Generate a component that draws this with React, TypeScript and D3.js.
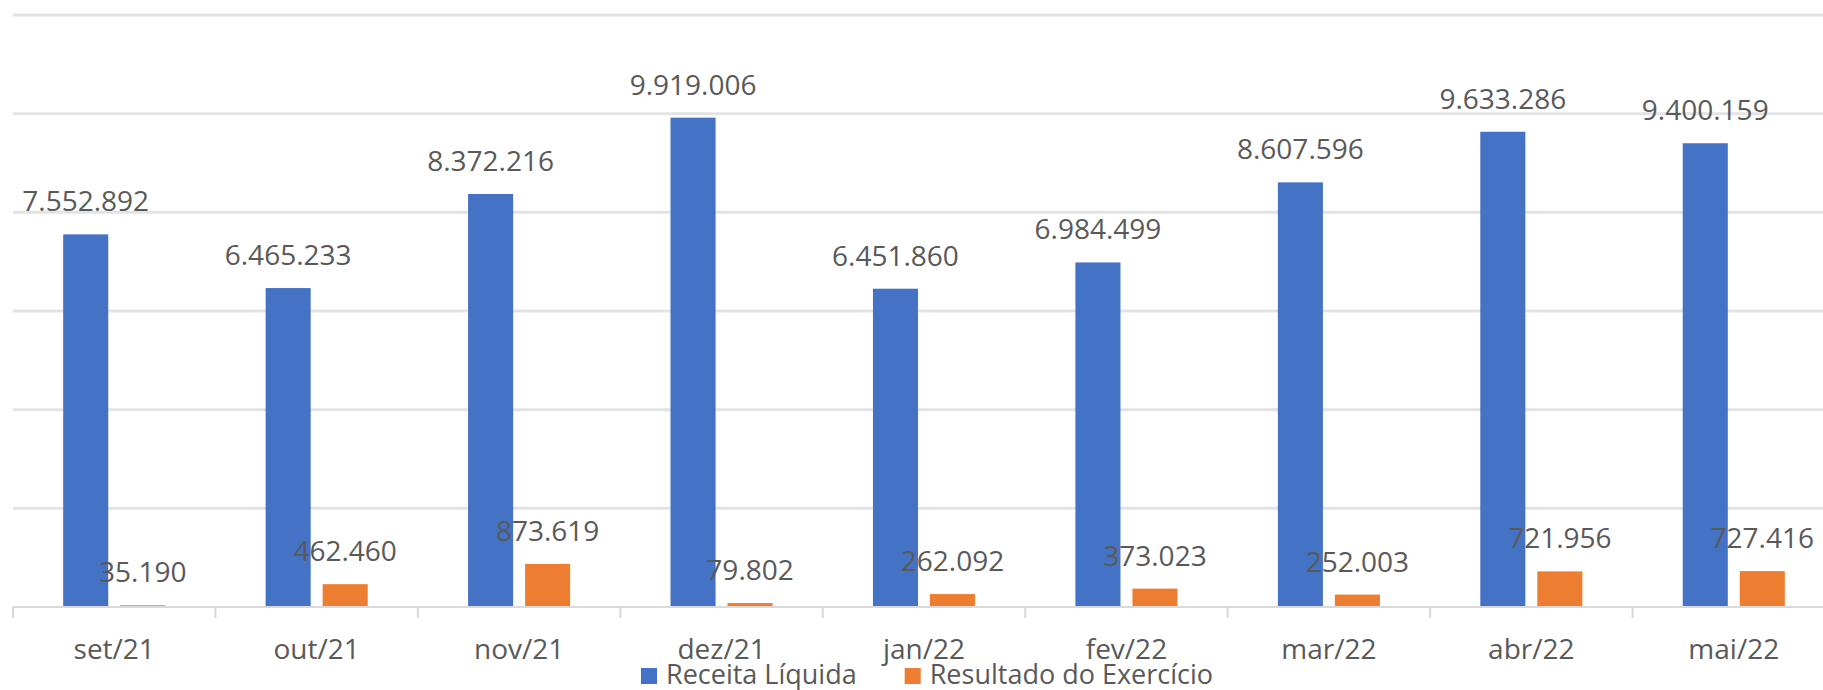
import { useEffect, useRef } from "react";
import * as d3 from "d3";

const categories = ["set/21", "out/21", "nov/21", "dez/21", "jan/22", "fev/22", "mar/22", "abr/22", "mai/22"];
const receitaLiquida = [7552892, 6465233, 8372216, 9919006, 6451860, 6984499, 8607596, 9633286, 9400159];
const resultadoExercicio = [35190, 462460, 873619, 79802, 262092, 373023, 252003, 721956, 727416];
const seriesNames = ["Receita Líquida", "Resultado do Exercício"];
const seriesColors = ["#4472C4", "#ED7D31"];
const yTicks = [0, 2000000, 4000000, 6000000, 8000000, 10000000, 12000000];

const W = 1823;
const H = 690;
const FONT = "'Open Sans', 'Liberation Sans', sans-serif";
const TEXT = "#595959";

const App = () => {
  const svgRef = useRef<SVGSVGElement | null>(null);

  useEffect(() => {
    if (!svgRef.current) return;
    const svg = d3.select(svgRef.current);
    svg.selectAll("*").remove();

    // plot area runs past the right edge (the original is cropped there)
    const left = 13;
    const right = 1835;
    const top = 15;
    const base = 607;

    const x = d3.scaleBand<string>().domain(categories).range([left, right]).padding(0);
    const xs = d3
      .scaleBand<number>()
      .domain([0, 1])
      .range([0, x.bandwidth()])
      .paddingInner(0.21)
      .paddingOuter(0.88);
    const y = d3.scaleLinear().domain([0, 12000000]).range([base, top]);

    const fmt = d3.formatLocale({ decimal: ",", thousands: ".", grouping: [3], currency: ["R$", ""] }).format(",d");

    // gridlines
    svg
      .append("g")
      .selectAll("line")
      .data(yTicks.slice(1))
      .join("line")
      .attr("x1", left)
      .attr("x2", right)
      .attr("y1", (d) => y(d))
      .attr("y2", (d) => y(d))
      .attr("stroke", "#e3e3e3")
      .attr("stroke-width", 3);

    // bars
    const series = [receitaLiquida, resultadoExercicio];
    series.forEach((vals, si) => {
      svg
        .append("g")
        .selectAll("rect")
        .data(vals)
        .join("rect")
        .attr("x", (_, i) => (x(categories[i]) as number) + (xs(si) as number))
        .attr("y", (d) => y(d))
        .attr("width", xs.bandwidth())
        .attr("height", (d) => base - y(d))
        .attr("fill", seriesColors[si]);
    });

    // x axis line + ticks
    const ax = svg.append("g").attr("stroke", "#d9d9d9").attr("stroke-width", 2);
    ax.append("line").attr("x1", left).attr("x2", right).attr("y1", base).attr("y2", base);
    ax.selectAll("line.tick")
      .data(d3.range(categories.length + 1))
      .join("line")
      .attr("class", "tick")
      .attr("x1", (i) => left + i * x.step())
      .attr("x2", (i) => left + i * x.step())
      .attr("y1", base)
      .attr("y2", base + 11);

    // data labels
    series.forEach((vals) => {
      const si = series.indexOf(vals);
      svg
        .append("g")
        .selectAll("text")
        .data(vals)
        .join("text")
        .attr("x", (_, i) => (x(categories[i]) as number) + (xs(si) as number) + xs.bandwidth() / 2)
        .attr("y", (d) => y(d) - 23)
        .attr("text-anchor", "middle")
        .attr("font-family", FONT)
        .attr("font-size", 28)
        .attr("fill", TEXT)
        .text((d) => fmt(d));
    });

    // category labels
    svg
      .append("g")
      .selectAll("text")
      .data(categories)
      .join("text")
      .attr("x", (d) => (x(d) as number) + x.bandwidth() / 2)
      .attr("y", 659)
      .attr("text-anchor", "middle")
      .attr("font-family", FONT)
      .attr("font-size", 28)
      .attr("fill", TEXT)
      .text((d) => d);

    // legend
    const lg = svg.append("g");
    const items = seriesNames.map((name, i) => {
      const g = lg.append("g");
      g.append("rect").attr("x", 0).attr("y", -16).attr("width", 16).attr("height", 16).attr("fill", seriesColors[i]);
      const t = g
        .append("text")
        .attr("x", 25)
        .attr("y", 0)
        .attr("font-family", FONT)
        .attr("font-size", 27)
        .attr("fill", TEXT)
        .text(name);
      const w = 25 + (t.node() as SVGTextElement).getComputedTextLength();
      return { g, w };
    });
    const gapItems = 48;
    const total = d3.sum(items, (d) => d.w) + gapItems * (items.length - 1);
    let cx = 927 - total / 2;
    items.forEach((it) => {
      it.g.attr("transform", `translate(${cx},684)`);
      cx += it.w + gapItems;
    });
  }, []);

  return (
    <svg
      ref={svgRef}
      width={W}
      height={H}
      viewBox={`0 0 ${W} ${H}`}
      style={{ position: "absolute", left: 0, top: 0, display: "block", background: "#fff" }}
    />
  );
};

export default App;
